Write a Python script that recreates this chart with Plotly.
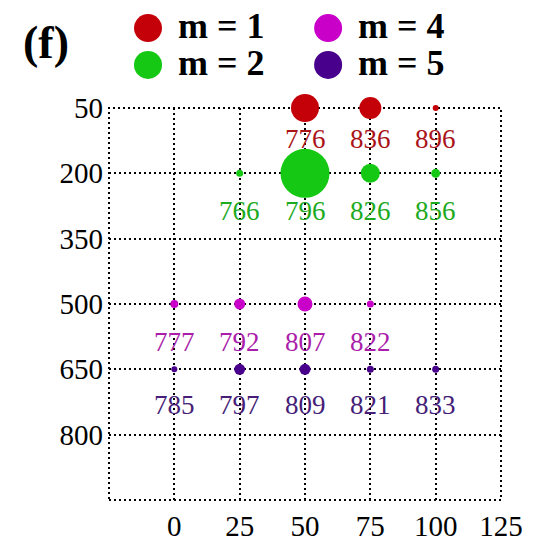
import plotly.graph_objects as go

# Bubble grid: x parameter vs y parameter, one row per mode m
x_m1 = [50, 75, 100]
y_m1 = [50, 50, 50]
lab_m1 = [776, 836, 896]
w_m1 = [28, 22, 6]

x_m2 = [25, 50, 75, 100]
y_m2 = [200, 200, 200, 200]
lab_m2 = [766, 796, 826, 856]
w_m2 = [7, 49, 19, 9]

x_m4 = [0, 25, 50, 75]
y_m4 = [500, 500, 500, 500]
lab_m4 = [777, 792, 807, 822]
w_m4 = [8, 11, 15, 7]

x_m5 = [0, 25, 50, 75, 100]
y_m5 = [650, 650, 650, 650, 650]
lab_m5 = [785, 797, 809, 821, 833]
w_m5 = [6, 11, 11, 7, 7]

x_ticks = [0, 25, 50, 75, 100, 125]
y_ticks = [50, 200, 350, 500, 650, 800]

series = [
    ("m = 1", x_m1, y_m1, lab_m1, w_m1, "rgb(196,0,8)", "rgb(170,20,25)", -31),
    ("m = 2", x_m2, y_m2, lab_m2, w_m2, "rgb(20,200,20)", "rgb(30,170,30)", -38),
    ("m = 4", x_m4, y_m4, lab_m4, w_m4, "rgb(200,0,200)", "rgb(170,30,170)", -38),
    ("m = 5", x_m5, y_m5, lab_m5, w_m5, "rgb(72,0,140)", "rgb(70,30,120)", -36),
]

SERIF = "Liberation Serif, Times New Roman, serif"
DOT = "2px,3px"

fig = go.Figure()
annotations = []
for name, xs, ys, labs, ws, col, tcol, shift in series:
    fig.add_trace(go.Scatter(
        x=xs, y=ys, mode="markers", name=name, showlegend=False, cliponaxis=False,
        marker=dict(size=ws, sizemode="diameter", color=col, opacity=1, line=dict(width=0)),
    ))
    for xv, yv, lv in zip(xs, ys, labs):
        annotations.append(dict(
            x=xv, y=yv, xref="x", yref="y", text=str(lv), showarrow=False,
            yshift=shift, font=dict(family=SERIF, size=27, color=tcol),
        ))

# legend: two columns of large dots, each column labelled by one two-line text
legend_cols = [(0.0995, series[0], series[1]), (0.559, series[2], series[3])]
row_y = [1.204, 1.110]
shapes = []
for lx, top, bottom in legend_cols:
    for s, ly in zip((top, bottom), row_y):
        shapes.append(dict(
            type="circle", xref="paper", yref="paper", xsizemode="pixel", ysizemode="pixel",
            xanchor=lx, yanchor=ly, x0=-14, x1=14, y0=-14, y1=14,
            fillcolor=s[5], line=dict(width=0),
        ))
    big = '<span style="font-size:36px"><b>%s</b></span>'
    annotations.append(dict(
        x=lx + 0.072, y=(row_y[0] + row_y[1]) / 2 + 0.004, xref="paper", yref="paper",
        text=big % top[0] + "<br>" + big % bottom[0],
        showarrow=False, xanchor="left", yanchor="middle", align="left",
        font=dict(family=SERIF, size=28.5, color="black"),
    ))

annotations.append(dict(
    x=-0.161, y=1.168, xref="paper", yref="paper", text="<b>(f)</b>",
    showarrow=False, xanchor="center", yanchor="middle",
    font=dict(family=SERIF, size=46, color="black"),
))

# dotted frame around the plotting area
shapes.append(dict(
    type="rect", xref="paper", yref="paper", x0=0, x1=1, y0=0, y1=1,
    line=dict(color="black", width=2, dash=DOT), layer="below",
))

fig.update_layout(
    width=539, height=542,
    margin=dict(l=109, r=38, t=108, b=42),
    paper_bgcolor="white", plot_bgcolor="white",
    showlegend=False,
    annotations=annotations, shapes=shapes,
    font=dict(family=SERIF, color="black"),
)
fig.update_xaxes(
    range=[-25, 125], tickvals=x_ticks, ticktext=[str(v) for v in x_ticks],
    showgrid=True, gridcolor="black", gridwidth=2, griddash=DOT,
    zeroline=False, showline=False, ticks="", ticklabelstandoff=6, automargin=False,
    tickfont=dict(family=SERIF, size=29, color="black"),
)
fig.update_yaxes(
    range=[950, 50], tickvals=y_ticks, ticktext=[str(v) for v in y_ticks],
    showgrid=True, gridcolor="black", gridwidth=2, griddash=DOT,
    zeroline=False, showline=False, ticks="", ticklabelstandoff=5, automargin=False,
    tickfont=dict(family=SERIF, size=29, color="black"),
)

fig.write_html("out.html")
